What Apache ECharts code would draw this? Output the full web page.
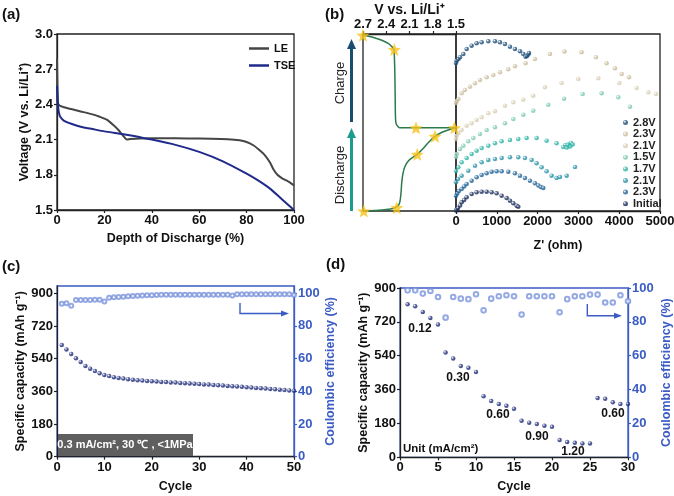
<!DOCTYPE html>
<html>
<head>
<meta charset="utf-8">
<script src="https://cdn.jsdelivr.net/npm/echarts@6.0.0/dist/echarts.min.js"></script>
<style>html,body{margin:0;padding:0;background:#fff}#main{width:674px;height:496px}</style>
</head>
<body>
<div id="main"></div>
<script>
var FONT = 'Liberation Sans, Arial, sans-serif';
var BLUE = '#3a5cc4';

// (a) discharge curves  [DoD %, V]
var dodLE = [[0,2.79],[0.4,2.42],[1,2.39],[3,2.375],[6,2.36],[10,2.34],[15,2.315],[18,2.295],[21,2.27],[24,2.22],[26,2.18],[28,2.13],[29.5,2.10],[31,2.105],[35,2.11],[45,2.112],[55,2.11],[65,2.108],[72,2.104],[77,2.095],[80,2.08],[83,2.05],[86,2.0],[88,1.96],[90,1.9],[91.5,1.84],[93,1.8],[95,1.77],[97,1.75],[100,1.71]];
var dodTSE = [[0,2.56],[0.3,2.42],[0.8,2.33],[1.5,2.29],[3,2.26],[6,2.235],[10,2.21],[15,2.19],[20,2.17],[30,2.14],[40,2.10],[50,2.055],[60,1.995],[70,1.915],[80,1.81],[85,1.75],[90,1.68],[95,1.59],[100,1.50]];

// (b) voltage profile  [V, time]
var vDis = [[2.70,0],[2.55,0.3],[2.40,0.8],[2.30,1.6],[2.25,2.8],[2.225,5],[2.21,10],[2.20,16],[2.185,21],[2.16,25],[2.11,28.5],[2.05,30.5],[2.0,32],[1.93,35],[1.85,39],[1.77,42.2],[1.68,44.5],[1.60,45.8],[1.5,47]];
var vChgFlat = [[1.5,47],[2.235,47]];
var vChgUp = [[2.235,47],[2.27,49],[2.28,52],[2.285,65],[2.29,80],[2.296,88],[2.30,91.2],[2.33,93],[2.37,94.6],[2.45,96.3],[2.52,97.4],[2.6,98.5],[2.7,99.3]];
var vStars = [[2.69,0],[2.265,1.9],[2.0,32],[1.771,42.2],[1.52,47],[2.016,47],[2.296,91.2],[2.7,99.3]];

// (b) Nyquist  [Z' ohm, offset]
var nyqNames = ['2.8V','2.3V|c','2.1V|c','1.5V','1.7V','2.1V','2.3V','Initial'];
var nyqColors = ['#1d4e79','#cbbd9c','#d9cdb3','#7dcab0','#2db3a6','#2a92a8','#1f6296','#1c2e5c'];
var nyq28 = [[0,148],[16,150.3],[60,152],[98,153.7],[180,157],[261,162],[384,165.3],[506,167.7],[629,168.7],[792,169.7],[955,169.7],[1078,168.7],[1200,167],[1323,164.3],[1445,162],[1568,159.7],[1650,157],[1707,154.3],[1740,155],[1772,156.5],[1790,158]];
var nyq23c = [[0,108],[20,110],[57,112],[139,117.7],[220,121],[343,124.3],[466,127.7],[588,131],[751,133.7],[915,136],[1078,138.7],[1282,141.7],[1445,144.7],[1707,147.7],[1936,152],[2303,157],[2660,159.5],[3080,158.7],[3431,153.7],[3693,147.7],[3897,142.7],[4061,137],[4240,133.7]];
var nyq21c = [[0,72],[16,75.3],[60,78],[139,81],[261,85.3],[384,87.7],[506,91],[629,93.7],[792,97.7],[955,99.7],[1200,105.3],[1405,108.7],[1650,111.3],[1894,115.3],[2181,123.7],[2589,128],[2998,132],[3488,132.7],[4003,128],[4428,123],[4714,118.7],[4902,117]];
var nyq15 = [[0,54],[16,57],[98,62],[180,65.3],[302,69.7],[425,73],[588,77],[751,81],[955,83.7],[1200,87.7],[1405,92],[1650,96.3],[1894,100.3],[2262,106.3],[2650,112.3],[3104,117],[3570,117.7],[3978,113.7],[4265,104.3]];
var nyq17 = [[0,40],[57,43.7],[139,48.7],[261,53],[384,57],[506,60.3],[629,63],[792,65.3],[955,67.7],[1119,69.7],[1323,71],[1527,72],[1731,73],[1976,73],[2221,70.3],[2466,67.7],[2630,64],[2680,66],[2720,63.5],[2770,67],[2820,68],[2860,66.5],[2800,64.5],[2740,66]];
var nyq21d = [[0,28.7],[50,32],[139,35.3],[302,40.3],[466,45.3],[629,48.7],[792,51],[955,52],[1119,53],[1323,53.7],[1527,53.7],[1690,53],[1854,51],[1976,47.7],[2099,43.7],[2221,39.7],[2344,35.3],[2466,33],[2549,34],[2713,35.3],[2917,44]];
var nyq23d = [[0,15.3],[30,17.5],[70,20],[139,22],[200,24.5],[261,27],[384,30.3],[506,33.7],[629,36],[751,37.7],[874,39.3],[996,39.7],[1119,39.7],[1282,39.3],[1445,37.7],[1568,35.3],[1690,33],[1813,30.3],[1936,27.7],[2020,25.5],[2080,24],[2140,23]];
var nyqInit = [[0,0.5],[20,1.5],[50,3],[100,5.5],[139,8.7],[200,11],[261,13.7],[384,17],[506,18.7],[629,19.3],[751,19.3],[874,18.8],[996,17.7],[1119,15.3],[1241,13],[1323,10.3],[1405,7.7],[1486,5.3],[1527,4.3]];
var nyqData = [nyq28, nyq23c, nyq21c, nyq15, nyq17, nyq21d, nyq23d, nyqInit];

// (c) cycling at 0.3 mA/cm2
var capC = [615,591,566,542,522,500,485,472,459,450,444,438,434,430,427,424,421,419,417,415,414,412,411,409,408,406,405,403,402,400,398,397,395,393,392,390,388,387,385,383,381,379,377,375,373,371,369,367,365,363];
var ceC = [93.5,93.9,92.3,95.9,95.9,95.9,95.9,96.0,96.0,94.9,97.2,97.5,97.7,97.9,98.1,98.3,98.5,98.6,98.7,98.8,98.9,99,99,99,99,99.1,99.1,99.1,99.1,99.1,99.1,99.1,99.1,99.1,99.1,99.1,98.6,99.3,99.3,99.3,99.3,99.3,99.3,99.3,99.3,99.3,99.3,99.3,99.3,98.9];
var capTicksC = [0,180,360,540,720,900];
var ceTicksC = [0,20,40,60,80,100];

// (d) rate capability
var capD = [813,803,773,741,706,557,525,485,476,454,325,299,283,274,258,194,184,177,168,162,92,81,77,74,74,315,311,292,283,283];
var ceD = [98.6,98.6,96.7,98.2,94.7,82.5,94.7,93.7,93.4,96.3,86.8,93.7,95.1,95.7,95.1,84.3,95.1,95.1,95.1,95.1,85.7,93.4,95.1,95.1,96.1,96.1,91.4,91.4,95.7,92.2];
var rateLabels = ['0.12','0.30','0.60','0.90','1.20','0.60'];

function pairs(arr){
    var out = [];
    for (var i = 0; i < arr.length; i++) out.push([i + 1, arr[i]]);
    return out;
}

var chart = echarts.init(document.getElementById('main'));

var TICK = 13;
var axisText = {color:'#111', fontFamily:FONT, fontWeight:'bold', fontSize:TICK, margin:4};
var nameText = {color:'#111', fontFamily:FONT, fontWeight:'bold', fontSize:12.5};
function ax(o){
    var a = {
        type:'value', splitLine:{show:false},
        axisLine:{show:true, onZero:false, lineStyle:{color:'#222', width:1.3}},
        axisTick:{show:true, length:3, lineStyle:{color:'#222', width:1.2}},
        axisLabel:axisText,
        nameLocation:'middle', nameTextStyle:nameText
    };
    for (var k in o) a[k] = o[k];
    return a;
}
function fix1(v){ return v.toFixed(1); }
function plain(v){ return String(v); }
var blueLine = {show:true, onZero:false, lineStyle:{color:BLUE, width:1.3}};
var blueTick = {show:true, length:3, lineStyle:{color:BLUE, width:1.2}};
var blueLabel = {color:BLUE, fontFamily:FONT, fontWeight:'bold', fontSize:TICK, margin:4};
var blueName = {color:BLUE, fontFamily:FONT, fontWeight:'bold', fontSize:12.5};

function shiny(c){
    return {type:'radial', x:0.35, y:0.35, r:0.75, colorStops:[{offset:0, color:'#ffffff'},{offset:0.45, color:c},{offset:1, color:c}]};
}

var series = [
    {name:'LE', type:'line', xAxisIndex:0, yAxisIndex:0, data:dodLE, symbol:'none', smooth:0.2, lineStyle:{color:'#454545', width:2}, itemStyle:{color:'#454545'}},
    {name:'TSE', type:'line', xAxisIndex:0, yAxisIndex:0, data:dodTSE, symbol:'none', smooth:0.2, lineStyle:{color:'#1f2a8a', width:2}, itemStyle:{color:'#1f2a8a'}},
    {type:'line', xAxisIndex:1, yAxisIndex:1, data:vDis, symbol:'none', smooth:0.3, lineStyle:{color:'#2b7a4b', width:1.5}},
    {type:'line', xAxisIndex:1, yAxisIndex:1, data:vChgFlat, symbol:'none', lineStyle:{color:'#2b7a4b', width:1.5}},
    {type:'line', xAxisIndex:1, yAxisIndex:1, data:vChgUp, symbol:'none', smooth:0.3, lineStyle:{color:'#2b7a4b', width:1.5}},
    {type:'scatter', xAxisIndex:1, yAxisIndex:1, data:vStars, clip:false, z:5,
     symbol:'path://M12,1 L14.9,8.6 L23,9.2 L16.8,14.2 L18.8,22 L12,17.6 L5.2,22 L7.2,14.2 L1,9.2 L9.1,8.6 Z',
     symbolSize:13, itemStyle:{color:'#f8c21b'}}
];
nyqNames.forEach(function(n, i){
    series.push({name:n, type:'scatter', xAxisIndex:2, yAxisIndex:2, data:nyqData[i],
        symbolSize:4.6, itemStyle:{color:shiny(nyqColors[i])}});
});
series.push(
    {type:'scatter', xAxisIndex:3, yAxisIndex:3, data:pairs(capC), symbolSize:4.5, itemStyle:{color:shiny('#1f2d7a')}},
    {type:'scatter', xAxisIndex:3, yAxisIndex:4, data:pairs(ceC), symbol:'emptyCircle', symbolSize:4, itemStyle:{color:'#7a93dc', borderWidth:0.7}},
    {type:'scatter', xAxisIndex:4, yAxisIndex:5, data:pairs(capD), symbolSize:4.5, itemStyle:{color:shiny('#1f2d7a')}},
    {type:'scatter', xAxisIndex:4, yAxisIndex:6, data:pairs(ceD), symbol:'emptyCircle', symbolSize:4.6, itemStyle:{color:'#7a93dc', borderWidth:0.8}}
);

function txt(x, y, s, o){
    var st = {text:s, x:x, y:y, fill:'#111', fontFamily:FONT, fontWeight:'bold', fontSize:12, align:'center', verticalAlign:'middle'};
    for (var k in (o || {})) st[k] = o[k];
    return {type:'text', z:100, style:st};
}
function arrowUp(x, y0, y1, c){
    return [
        {type:'line', z:100, shape:{x1:x, y1:y0, x2:x, y2:y1 + 8}, style:{stroke:c, lineWidth:3}},
        {type:'polygon', z:100, shape:{points:[[x, y1],[x - 4.5, y1 + 10],[x + 4.5, y1 + 10]]}, style:{fill:c}}
    ];
}
function elbow(x, y0, y1, x1){
    return [
        {type:'polyline', z:100, shape:{points:[[x, y0],[x, y1],[x1 - 6, y1]]}, style:{stroke:BLUE, lineWidth:1.4, fill:null}},
        {type:'polygon', z:100, shape:{points:[[x1, y1],[x1 - 8, y1 - 3],[x1 - 8, y1 + 3]]}, style:{fill:BLUE}}
    ];
}

var graphics = [
    txt(2, 15, '(a)', {align:'left', fontSize:15}),
    txt(325, 15, '(b)', {align:'left', fontSize:15}),
    txt(2, 267, '(c)', {align:'left', fontSize:15}),
    txt(326, 265, '(d)', {align:'left', fontSize:15}),
    {type:'text', z:100, x:340, y:83, rotation:Math.PI / 2, style:{text:'Charge', fill:'#222', fontFamily:FONT, fontSize:13, align:'center', verticalAlign:'middle'}},
    {type:'text', z:100, x:340, y:175, rotation:Math.PI / 2, style:{text:'Discharge', fill:'#222', fontFamily:FONT, fontSize:13, align:'center', verticalAlign:'middle'}},
    {type:'rect', z:100, shape:{x:58, y:434, width:135, height:22}, style:{fill:'#5f5f5f'}},
    txt(125, 445, '0.3 mA/cm², 30 ℃ , <1MPa', {fill:'#fff', fontSize:11}),
    txt(420, 329, rateLabels[0]),
    txt(458, 378, rateLabels[1]),
    txt(498, 415, rateLabels[2]),
    txt(537, 437, rateLabels[3]),
    txt(573, 452, rateLabels[4]),
    txt(613, 414, rateLabels[5]),
    txt(403, 449, 'Unit (mA/cm²)', {align:'left', fontSize:11.5})
];
graphics = graphics.concat(
    arrowUp(351.5, 122, 39, '#1b4e6e'),
    arrowUp(351.5, 211, 128, '#1a9d8f'),
    elbow(240, 303, 313.5, 289),
    elbow(587.3, 304, 315.7, 622)
);

var option = {
    backgroundColor:'#fff',
    animation:false,
    textStyle:{fontFamily:FONT},
    grid:[
        {left:57, top:34, width:237, height:176, show:true, borderColor:'#222', borderWidth:1.3, outerBoundsMode:'none'},
        {left:363, top:34, width:93, height:177, show:true, borderColor:'#222', borderWidth:1.3, outerBoundsMode:'none'},
        {left:456, top:34, width:204, height:177, show:true, borderColor:'#222', borderWidth:1.3, outerBoundsMode:'none'},
        {left:57, top:286, width:237, height:170.7, show:true, borderColor:BLUE, borderWidth:1.3, outerBoundsMode:'none'},
        {left:400, top:288, width:228, height:169.3, show:true, borderColor:BLUE, borderWidth:1.3, outerBoundsMode:'none'}
    ],
    legend:[
        {data:['LE','TSE'], left:244, top:38, orient:'vertical', icon:'rect', itemWidth:20, itemHeight:2.5, itemGap:6,
         textStyle:{color:'#111', fontFamily:FONT, fontWeight:'bold', fontSize:11}},
        {data:nyqNames, left:618, top:112, orient:'vertical', icon:'circle', itemWidth:5, itemHeight:5, itemGap:0.6,
         formatter:function(n){ return n.split('|')[0]; },
         textStyle:{color:'#222', fontFamily:FONT, fontWeight:'bold', fontSize:11, lineHeight:11}}
    ],
    xAxis:[
        ax({gridIndex:0, min:0, max:100, interval:20, name:'Depth of Discharge (%)', nameGap:22}),
        ax({gridIndex:1, position:'top', inverse:true, min:1.5, max:2.7, interval:0.3, name:'V vs. Li/Li⁺', nameGap:15,
            nameTextStyle:{color:'#111', fontFamily:FONT, fontWeight:'bold', fontSize:14},
            axisLabel:{color:'#111', fontFamily:FONT, fontWeight:'bold', fontSize:TICK, margin:3, formatter:fix1}}),
        ax({gridIndex:2, min:0, max:5000, interval:1000, name:"Z' (ohm)", nameGap:28,
            axisLabel:{color:'#111', fontFamily:FONT, fontWeight:'bold', fontSize:TICK, margin:4, formatter:plain}}),
        ax({gridIndex:3, min:0, max:50, interval:10, name:'Cycle', nameGap:23}),
        ax({gridIndex:4, min:0, max:30, interval:5, name:'Cycle', nameGap:23})
    ],
    yAxis:[
        ax({gridIndex:0, min:1.5, max:3.0, interval:0.3, name:'Voltage (V vs. Li/Li⁺)', nameGap:26,
            axisLabel:{color:'#111', fontFamily:FONT, fontWeight:'bold', fontSize:TICK, margin:4, formatter:fix1}}),
        {gridIndex:1, type:'value', min:0, max:100, show:false},
        {gridIndex:2, type:'value', min:0, max:177, show:false},
        ax({gridIndex:3, min:0, max:940, name:'Specific capacity (mAh g⁻¹)', nameGap:30,
            axisLabel:{color:'#111', fontFamily:FONT, fontWeight:'bold', fontSize:TICK, margin:4, customValues:capTicksC},
            axisTick:{show:true, length:3, lineStyle:{color:'#222', width:1.2}, customValues:capTicksC}}),
        ax({gridIndex:3, position:'right', min:0, max:104.4, name:'Coulombic efficiency (%)', nameGap:29, nameRotate:90,
            axisLine:blueLine, nameTextStyle:blueName,
            axisLabel:{color:BLUE, fontFamily:FONT, fontWeight:'bold', fontSize:TICK, margin:4, customValues:ceTicksC},
            axisTick:{show:true, length:3, lineStyle:{color:BLUE, width:1.2}, customValues:ceTicksC}}),
        ax({gridIndex:4, min:0, max:900, interval:180, name:'Specific capacity (mAh g⁻¹)', nameGap:30}),
        ax({gridIndex:4, position:'right', min:0, max:100, interval:20, name:'Coulombic efficiency (%)', nameGap:32, nameRotate:90,
            axisLine:blueLine, axisTick:blueTick, axisLabel:blueLabel, nameTextStyle:blueName})
    ],
    series:series,
    graphic:graphics
};

chart.setOption(option);
</script>
</body>
</html>
